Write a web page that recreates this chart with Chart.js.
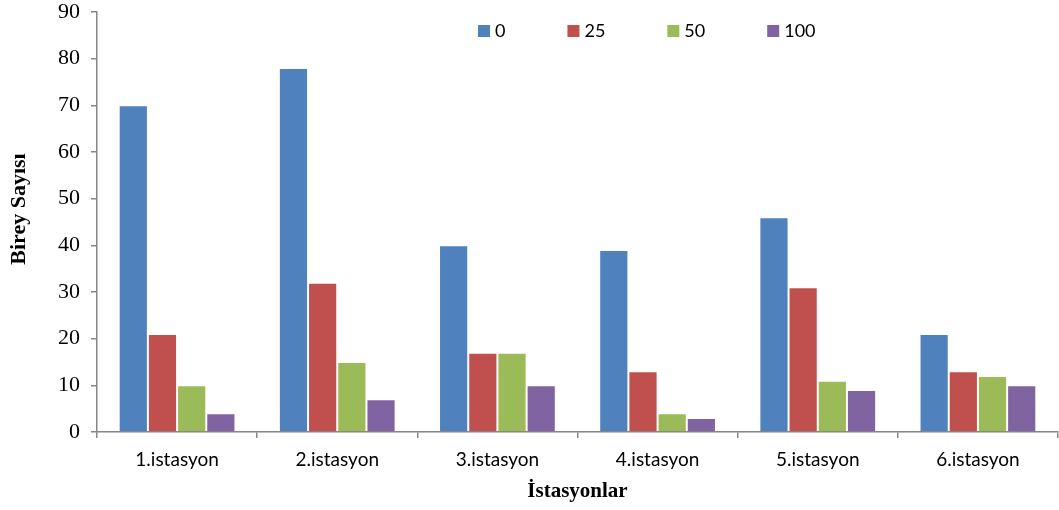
<!DOCTYPE html>
<html>
<head>
<meta charset="utf-8">
<script src="https://cdn.jsdelivr.net/npm/chart.js@4/dist/chart.umd.min.js"></script>
<style>
  html, body { margin: 0; padding: 0; background: #ffffff; }
  #wrap { width: 1059px; height: 510px; position: relative; }
</style>
</head>
<body>
<div id="wrap"><canvas id="c"></canvas></div>
<script>
// Station names along the x axis
const stations = ['1.istasyon', '2.istasyon', '3.istasyon', '4.istasyon', '5.istasyon', '6.istasyon'];
// Series labels (dose groups)
const seriesLabels = ['0', '25', '50', '100'];
// Individual counts per station for each group
const values0   = [70, 78, 40, 39, 46, 21];
const values25  = [21, 32, 17, 13, 31, 13];
const values50  = [10, 15, 17, 4, 11, 12];
const values100 = [4, 7, 10, 3, 9, 10];
// Y axis range and step
const yMin = 0, yMax = 90, yStep = 10;
const yTitle = 'Birey Sayısı';

const colors = ['#4F81BD', '#C0504D', '#9BBB59', '#8064A2'];
const seriesValues = [values0, values25, values50, values100];

const axisGray = '#868686';
const serif = '"Liberation Serif", "Times New Roman", serif';
const sans = 'Lato, "Open Sans", sans-serif';

// Legend drawn as a single row of square swatches, plus the vertical axis title
const decorations = {
  id: 'decorations',
  afterDraw(chart) {
    const ctx = chart.ctx;
    ctx.save();
    ctx.font = '18px ' + sans;
    ctx.textBaseline = 'middle';
    let x = 478;
    const cy = 31;
    chart.data.datasets.forEach(ds => {
      ctx.fillStyle = ds.backgroundColor;
      ctx.fillRect(x, cy - 6, 12, 12);
      ctx.fillStyle = '#000000';
      ctx.fillText(ds.label, x + 17, cy);
      x += 17 + ctx.measureText(ds.label).width + 62;
    });
    ctx.restore();

    ctx.save();
    ctx.translate(19, 209);
    ctx.rotate(-Math.PI / 2);
    ctx.font = 'bold 22px ' + serif;
    ctx.fillStyle = '#000000';
    ctx.textAlign = 'center';
    ctx.textBaseline = 'middle';
    ctx.fillText(yTitle, 0, 0);
    ctx.restore();
  }
};

new Chart(document.getElementById('c'), {
  type: 'bar',
  data: {
    labels: stations,
    datasets: seriesLabels.map((label, i) => ({
      label,
      data: seriesValues[i],
      backgroundColor: colors[i],
      borderColor: 'rgba(255,255,255,0.35)',
      borderWidth: 1,
      barPercentage: 1,
      categoryPercentage: 0.729
    }))
  },
  options: {
    responsive: true,
    maintainAspectRatio: false,
    animation: false,
    layout: { padding: { top: 12, right: 1, left: 0, bottom: 0 } },
    plugins: {
      legend: { display: false },
      tooltip: { enabled: false }
    },
    scales: {
      x: {
        grid: {
          display: true,
          drawOnChartArea: false,
          drawTicks: true,
          tickLength: 6,
          color: axisGray,
          lineWidth: 1.5
        },
        border: { display: true, color: axisGray, width: 1.5 },
        ticks: {
          color: '#000000',
          font: { family: sans, size: 19 },
          padding: 10,
          maxRotation: 0
        },
        title: {
          display: true,
          text: 'İstasyonlar',
          color: '#000000',
          font: { family: serif, size: 21, weight: 'bold' },
          padding: { top: 0, bottom: 6 }
        },
        afterFit(scale) {
          scale.height = 78;
          scale.paddingLeft = 0;
          scale.paddingRight = 0;
        }
      },
      y: {
        min: yMin,
        max: yMax,
        ticks: {
          stepSize: yStep,
          color: '#000000',
          font: { family: serif, size: 22 },
          padding: 11
        },
        grid: {
          display: true,
          drawOnChartArea: false,
          drawTicks: true,
          tickLength: 6,
          color: axisGray,
          lineWidth: 1.5
        },
        border: { display: true, color: axisGray, width: 1.5 },
        afterFit(scale) {
          scale.width = 97;
          scale.paddingTop = 0;
          scale.paddingBottom = 0;
        }
      }
    }
  },
  plugins: [decorations]
});
</script>
</body>
</html>
